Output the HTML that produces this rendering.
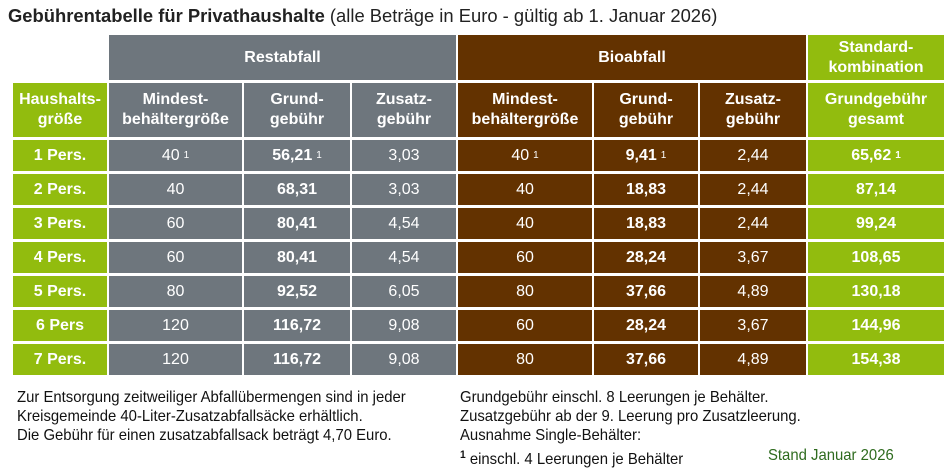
<!DOCTYPE html>
<html><head><meta charset="utf-8"><style>
body{margin:0;width:945px;height:470px;background:#fff;position:relative;overflow:hidden;font-family:"Liberation Sans",Arial,sans-serif;}
.t{position:absolute;left:8px;top:5px;font-size:18.4px;color:#222;white-space:nowrap}
.g{position:absolute;left:13px;top:35px;display:grid;grid-template-columns:94px 133px 106px 104px 134px 104px 106px 136px;grid-template-rows:45px 54px repeat(7,31px);gap:3px 2px;}
.g div{display:flex;align-items:center;justify-content:center;text-align:center;color:#fff;font-size:16px;line-height:20px}
.gr{background:#6e767d}.br{background:#633200}.gn{background:#92bc0e;font-weight:bold}
.h{font-weight:bold}
b{font-weight:bold}
sup{font-size:10px;vertical-align:7px;margin-left:4px;line-height:0}
.f{position:absolute;font-size:16px;line-height:19px;color:#111;transform:scaleX(0.93);transform-origin:left top;white-space:nowrap}
</style></head><body>
<div class="t"><b>Gebührentabelle für Privathaushalte</b> (alle Beträge in Euro - gültig ab 1. Januar 2026)</div>
<div class="g">
<div style="background:#fff"></div>
<div class="gr h" style="grid-column:span 3">Restabfall</div>
<div class="br h" style="grid-column:span 3">Bioabfall</div>
<div class="gn">Standard-<br>kombination</div>

<div class="gn">Haushalts-<br>größe</div>
<div class="gr h">Mindest-<br>behältergröße</div><div class="gr h">Grund-<br>gebühr</div><div class="gr h">Zusatz-<br>gebühr</div>
<div class="br h">Mindest-<br>behältergröße</div><div class="br h">Grund-<br>gebühr</div><div class="br h">Zusatz-<br>gebühr</div>
<div class="gn">Grundgebühr<br>gesamt</div>

<div class="gn">1 Pers.</div><div class="gr">40<sup>1</sup></div><div class="gr"><b>56,21</b><sup>1</sup></div><div class="gr">3,03</div><div class="br">40<sup>1</sup></div><div class="br"><b>9,41</b><sup>1</sup></div><div class="br">2,44</div><div class="gn">65,62<sup>1</sup></div>
<div class="gn">2 Pers.</div><div class="gr">40</div><div class="gr h">68,31</div><div class="gr">3,03</div><div class="br">40</div><div class="br h">18,83</div><div class="br">2,44</div><div class="gn">87,14</div>
<div class="gn">3 Pers.</div><div class="gr">60</div><div class="gr h">80,41</div><div class="gr">4,54</div><div class="br">40</div><div class="br h">18,83</div><div class="br">2,44</div><div class="gn">99,24</div>
<div class="gn">4 Pers.</div><div class="gr">60</div><div class="gr h">80,41</div><div class="gr">4,54</div><div class="br">60</div><div class="br h">28,24</div><div class="br">3,67</div><div class="gn">108,65</div>
<div class="gn">5 Pers.</div><div class="gr">80</div><div class="gr h">92,52</div><div class="gr">6,05</div><div class="br">80</div><div class="br h">37,66</div><div class="br">4,89</div><div class="gn">130,18</div>
<div class="gn">6 Pers</div><div class="gr">120</div><div class="gr h">116,72</div><div class="gr">9,08</div><div class="br">60</div><div class="br h">28,24</div><div class="br">3,67</div><div class="gn">144,96</div>
<div class="gn">7 Pers.</div><div class="gr">120</div><div class="gr h">116,72</div><div class="gr">9,08</div><div class="br">80</div><div class="br h">37,66</div><div class="br">4,89</div><div class="gn">154,38</div>
</div>
<div class="f" style="left:17px;top:388px">Zur Entsorgung zeitweiliger Abfallübermengen sind in jeder<br>Kreisgemeinde 40-Liter-Zusatzabfallsäcke erhältlich.<br>Die Gebühr für einen zusatzabfallsack beträgt 4,70 Euro.</div>
<div class="f" style="left:460px;top:388px">Grundgebühr einschl. 8 Leerungen je Behälter.<br>Zusatzgebühr ab der 9. Leerung pro Zusatzleerung.<br>Ausnahme Single-Behälter:</div>
<div class="f" style="left:460px;top:446px"><span style="font-size:11px;vertical-align:6px;font-weight:bold">1</span> einschl. 4 Leerungen je Behälter</div>
<div class="f" style="left:768px;top:446px;color:#2e6b1e">Stand Januar 2026</div>
</body></html>
